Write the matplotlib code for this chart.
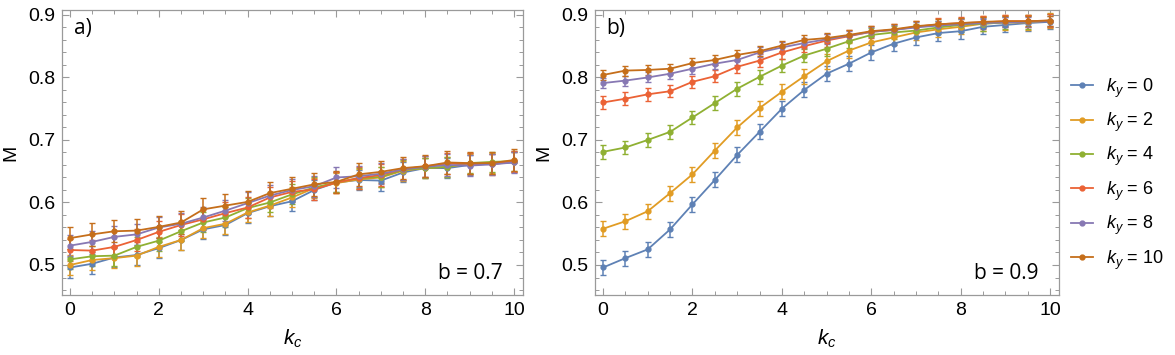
import numpy as np
import matplotlib
matplotlib.use("Agg")
import matplotlib.pyplot as plt
from matplotlib.ticker import MultipleLocator
from matplotlib.lines import Line2D

kc = [0, 0.5, 1, 1.5, 2, 2.5, 3, 3.5, 4, 4.5, 5, 5.5, 6, 6.5, 7, 7.5, 8, 8.5, 9, 9.5, 10]
ky_labels = ["0", "2", "4", "6", "8", "10"]
colors = ["#5E81B5", "#E19C24", "#8FB032", "#EB6235", "#8778B3", "#C56E1A"]

# panel a) b = 0.7
a_ky0 = [0.496, 0.502, 0.512, 0.516, 0.527, 0.540, 0.557, 0.564, 0.583, 0.594, 0.602,
         0.620, 0.632, 0.636, 0.635, 0.648, 0.655, 0.655, 0.660, 0.662, 0.664]
a_ky2 = [0.500, 0.508, 0.511, 0.515, 0.529, 0.540, 0.559, 0.566, 0.584, 0.595, 0.608,
         0.623, 0.631, 0.637, 0.640, 0.651, 0.655, 0.657, 0.662, 0.663, 0.665]
a_ky4 = [0.509, 0.514, 0.515, 0.529, 0.539, 0.554, 0.568, 0.576, 0.591, 0.600, 0.613,
         0.624, 0.632, 0.639, 0.641, 0.652, 0.655, 0.657, 0.663, 0.665, 0.666]
a_ky6 = [0.524, 0.523, 0.529, 0.540, 0.553, 0.564, 0.573, 0.583, 0.592, 0.608, 0.617,
         0.621, 0.632, 0.639, 0.644, 0.653, 0.658, 0.662, 0.662, 0.661, 0.666]
a_ky8 = [0.531, 0.537, 0.545, 0.549, 0.560, 0.566, 0.576, 0.587, 0.599, 0.611, 0.620,
         0.626, 0.640, 0.642, 0.646, 0.653, 0.657, 0.660, 0.659, 0.661, 0.664]
a_ky10 = [0.543, 0.549, 0.554, 0.555, 0.561, 0.568, 0.589, 0.595, 0.601, 0.615, 0.622,
          0.629, 0.633, 0.645, 0.649, 0.655, 0.658, 0.664, 0.663, 0.663, 0.668]
a_err = [0.016, 0.016, 0.016, 0.017, 0.017, 0.018]

# panel b) b = 0.9
b_ky0 = [0.496, 0.511, 0.525, 0.557, 0.597, 0.636, 0.676, 0.713, 0.750, 0.780, 0.806,
         0.822, 0.840, 0.854, 0.864, 0.871, 0.874, 0.881, 0.884, 0.887, 0.889]
b_ky2 = [0.558, 0.570, 0.586, 0.615, 0.645, 0.683, 0.720, 0.751, 0.777, 0.802, 0.826,
         0.843, 0.856, 0.864, 0.872, 0.877, 0.881, 0.886, 0.888, 0.888, 0.891]
b_ky4 = [0.681, 0.688, 0.700, 0.713, 0.736, 0.759, 0.782, 0.801, 0.819, 0.835, 0.846,
         0.858, 0.868, 0.872, 0.875, 0.880, 0.884, 0.886, 0.888, 0.889, 0.891]
b_ky6 = [0.760, 0.766, 0.773, 0.778, 0.793, 0.802, 0.817, 0.827, 0.840, 0.850, 0.859,
         0.866, 0.873, 0.876, 0.881, 0.885, 0.887, 0.888, 0.890, 0.890, 0.891]
b_ky8 = [0.791, 0.795, 0.800, 0.806, 0.814, 0.822, 0.828, 0.840, 0.848, 0.855, 0.861,
         0.867, 0.873, 0.876, 0.880, 0.883, 0.885, 0.887, 0.888, 0.889, 0.890]
b_ky10 = [0.804, 0.811, 0.812, 0.814, 0.823, 0.828, 0.836, 0.842, 0.851, 0.860, 0.863,
          0.868, 0.874, 0.877, 0.882, 0.885, 0.887, 0.889, 0.890, 0.890, 0.891]
b_err = [0.012, 0.012, 0.011, 0.010, 0.008, 0.008]

panels = [
    ("a)", "b = 0.7", [a_ky0, a_ky2, a_ky4, a_ky6, a_ky8, a_ky10], a_err),
    ("b)", "b = 0.9", [b_ky0, b_ky2, b_ky4, b_ky6, b_ky8, b_ky10], b_err),
]

plt.rcParams['font.family'] = ['Liberation Sans', 'DejaVu Sans']
plt.rcParams['mathtext.fontset'] = 'custom'
plt.rcParams['mathtext.it'] = 'Liberation Sans:italic'
plt.rcParams['mathtext.rm'] = 'Liberation Sans'

fig = plt.figure(figsize=(11.75, 3.55), dpi=100)
frame_col = "#9a9a9a"
positions = [[0.0528, 0.169, 0.3923, 0.803], [0.5064, 0.169, 0.3949, 0.803]]

for (tag, btxt, series, errs), pos in zip(panels, positions):
    ax = fig.add_axes(pos)
    for vals, c, e in zip(series, colors, errs):
        ax.errorbar(kc, vals, yerr=e, color=c, lw=1.3, marker='o', ms=3.5,
                    elinewidth=1.1, capsize=2, capthick=1.0, ecolor=c, alpha=1)
    ax.set_xlim(-0.18, 10.2)
    ax.set_ylim(0.452, 0.908)
    ax.xaxis.set_major_locator(MultipleLocator(2))
    ax.xaxis.set_minor_locator(MultipleLocator(0.5))
    ax.yaxis.set_major_locator(MultipleLocator(0.1))
    ax.yaxis.set_minor_locator(MultipleLocator(0.02))
    ax.tick_params(which='both', direction='in', top=True, right=True, color=frame_col,
                   labelsize=14, pad=5)
    ax.tick_params(which='major', length=5, width=0.8)
    ax.tick_params(which='minor', length=2.8, width=0.7)
    for s in ax.spines.values():
        s.set_color(frame_col)
        s.set_linewidth(0.9)
    ax.set_xlabel(r"$k_c$", fontsize=15, labelpad=6)
    ax.set_ylabel("M", fontsize=14, labelpad=6)
    ax.text(0.025, 0.935, tag, transform=ax.transAxes, fontsize=15, family='Open Sans',
            va='center', ha='left')
    ax.text(0.955, 0.075, btxt, transform=ax.transAxes, fontsize=15, family='Open Sans',
            va='center', ha='right')

handles = [Line2D([0], [0], color=c, lw=1.3, marker='o', ms=3.5) for c in colors]
labels = [r"$k_y$ = " + k for k in ky_labels]
fig.legend(handles, labels, loc='center left', bbox_to_anchor=(0.898, 0.51),
           frameon=False, fontsize=13, handlelength=1.2, handletextpad=0.7,
           labelspacing=0.62)

fig.savefig("out.png", dpi=100)
